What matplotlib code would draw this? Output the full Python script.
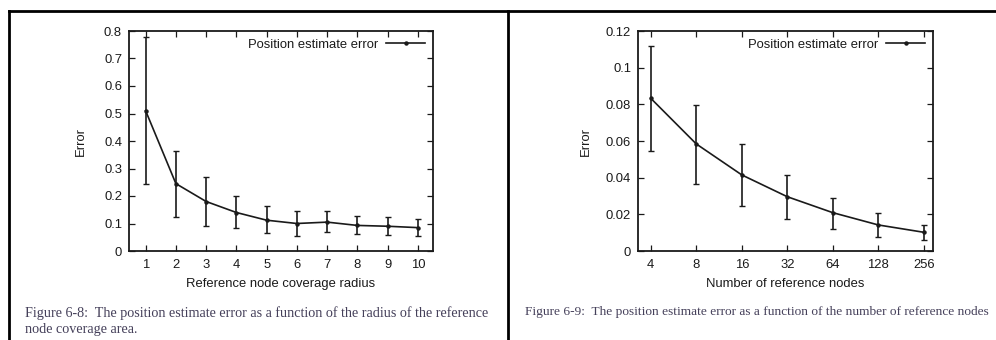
import numpy as np
import matplotlib
matplotlib.use("Agg")
import matplotlib.pyplot as plt
from matplotlib.lines import Line2D

# Figure 6-8 data: error vs reference node coverage radius
radius = [1, 2, 3, 4, 5, 6, 7, 8, 9, 10]
radius_err = [0.51, 0.245, 0.18, 0.14, 0.112, 0.10, 0.105, 0.093, 0.09, 0.085]
radius_lo = [0.245, 0.125, 0.09, 0.085, 0.065, 0.055, 0.07, 0.062, 0.057, 0.055]
radius_hi = [0.78, 0.365, 0.27, 0.20, 0.165, 0.145, 0.145, 0.127, 0.125, 0.117]

# Figure 6-9 data: error vs number of reference nodes
nodes = [4, 8, 16, 32, 64, 128, 256]
nodes_err = [0.0833, 0.0584, 0.0415, 0.0296, 0.0209, 0.0142, 0.0102]
nodes_lo = [0.0546, 0.0366, 0.0247, 0.0176, 0.0122, 0.0075, 0.006]
nodes_hi = [0.112, 0.0798, 0.0582, 0.0415, 0.0289, 0.0207, 0.0144]

legend_label = "Position estimate error"
caption_left = ("Figure 6-8:  The position estimate error as a function of the radius of the reference\n"
                "node coverage area.")
caption_right = "Figure 6-9:  The position estimate error as a function of the number of reference nodes"

W, H = 996, 340
ink = "#1a1a1a"
sans = "Liberation Sans"
serif = "Liberation Serif"
fs = 9.4

fig = plt.figure(figsize=(W / 100, H / 100), dpi=100)


def px_axes(x0, y0, x1, y1):
    return fig.add_axes([x0 / W, 1 - y1 / H, (x1 - x0) / W, (y1 - y0) / H])


def style(ax):
    ax.tick_params(direction="in", top=True, right=True, length=4, width=0.9,
                   labelsize=fs, colors=ink, pad=5)
    for lab in ax.get_xticklabels() + ax.get_yticklabels():
        lab.set_fontfamily(sans)
    for s in ax.spines.values():
        s.set_linewidth(1.3)
        s.set_color(ink)
    ax.tick_params(axis="x", pad=6)


def draw(ax, x, y, lo, hi):
    y = np.array(y)
    yerr = [y - np.array(lo), np.array(hi) - y]
    ax.errorbar(x, y, yerr=yerr, color=ink, lw=1.2, elinewidth=1.2,
                capsize=2.2, capthick=1.0, marker="o", markersize=2.2)
    h = Line2D([], [], color=ink, lw=1.2, marker="o", markersize=2.2)
    leg = ax.legend([h], [legend_label], loc="upper right", frameon=False,
                    markerfirst=False, handlelength=3.0, handletextpad=0.6,
                    borderaxespad=0.2, prop={"family": sans, "size": fs})
    for t in leg.get_texts():
        t.set_color(ink)


# left panel
ax1 = px_axes(129, 31, 433, 251)
draw(ax1, radius, radius_err, radius_lo, radius_hi)
ax1.set_xlim(0.45, 10.5)
ax1.set_ylim(0, 0.8)
ax1.set_xticks(radius)
ax1.set_yticks(np.arange(0, 0.81, 0.1))
ax1.set_yticklabels(["0"] + ["%.1f" % v for v in np.arange(0.1, 0.81, 0.1)])
style(ax1)
ax1.set_xlabel("Reference node coverage radius", fontfamily=sans, fontsize=fs,
               color=ink, labelpad=5)
ax1.set_ylabel("Error", fontfamily=sans, fontsize=fs, color=ink, labelpad=12)

# right panel
ax2 = px_axes(638, 31, 933, 251)
draw(ax2, nodes, nodes_err, nodes_lo, nodes_hi)
ax2.set_xscale("log", base=2)
ax2.set_xlim(2 ** 1.72, 2 ** 8.2)
ax2.set_ylim(0, 0.12)
ax2.set_xticks(nodes)
ax2.set_xticklabels([str(n) for n in nodes])
ax2.minorticks_off()
ax2.set_yticks([0, 0.02, 0.04, 0.06, 0.08, 0.1, 0.12])
ax2.set_yticklabels(["0", "0.02", "0.04", "0.06", "0.08", "0.1", "0.12"])
style(ax2)
ax2.set_xlabel("Number of reference nodes", fontfamily=sans, fontsize=fs,
               color=ink, labelpad=5)
ax2.set_ylabel("Error", fontfamily=sans, fontsize=fs, color=ink, labelpad=10)

# captions
fig.text(25 / W, 1 - 306 / H, caption_left, fontfamily=serif, fontsize=10.2,
         color="#45405a", va="top", ha="left", linespacing=1.35)
fig.text(525 / W, 1 - 306 / H, caption_right, fontfamily=serif, fontsize=9.6,
         color="#45405a", va="top", ha="left")

# page frame lines
fig.add_artist(Line2D([9 / W, 1], [1 - 11 / H, 1 - 11 / H], color="black", lw=2))
fig.add_artist(Line2D([9 / W, 9 / W], [0, 1 - 11 / H], color="black", lw=2))
fig.add_artist(Line2D([508 / W, 508 / W], [0, 1 - 11 / H], color="black", lw=2))

fig.savefig("out.png", dpi=100)
